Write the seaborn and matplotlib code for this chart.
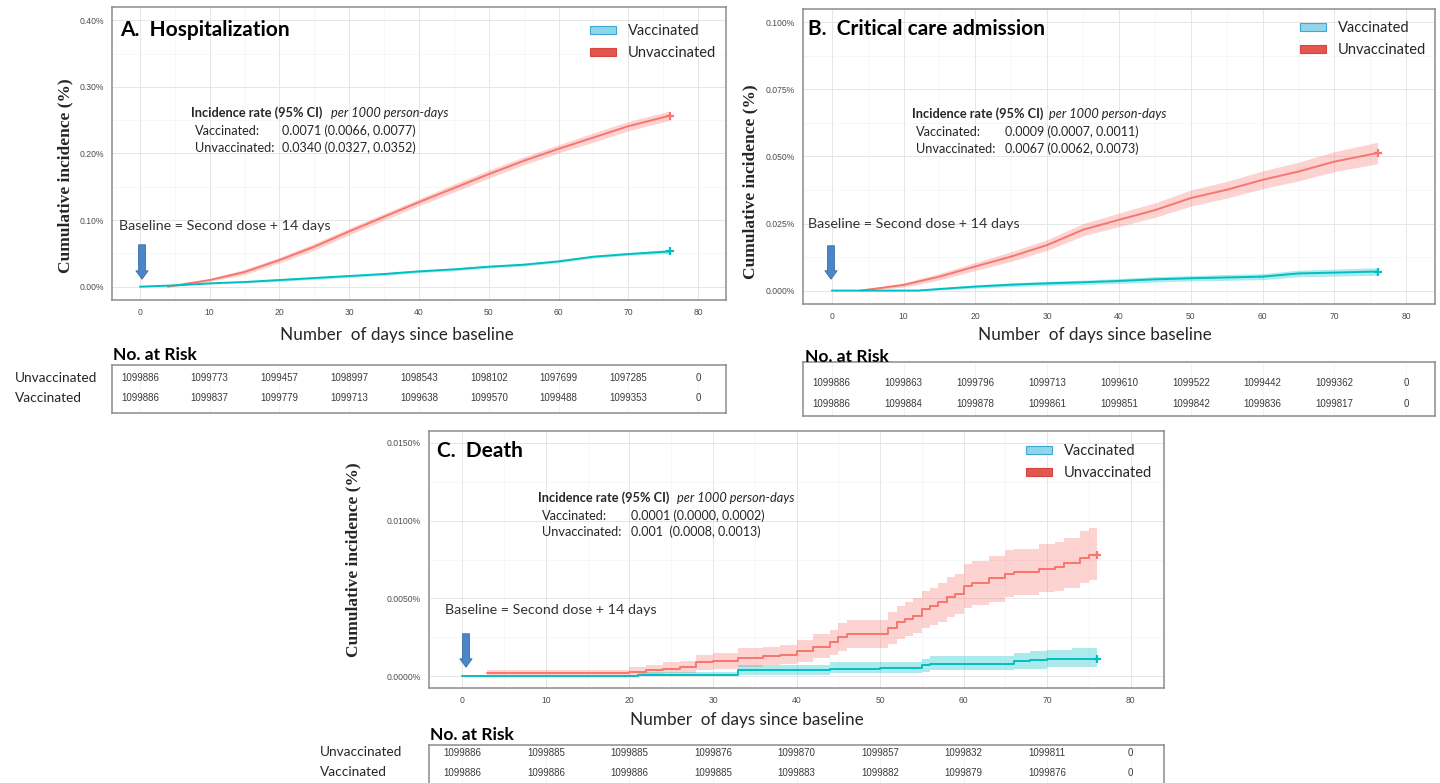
import matplotlib
matplotlib.use('Agg')
import matplotlib.pyplot as plt
import seaborn as sns
from matplotlib.patches import Patch
from matplotlib.ticker import FuncFormatter, MultipleLocator

# ---------------- data (cumulative incidence, %) ----------------
# A. Hospitalization
hosp_vax_days = [0, 5, 10, 15, 20, 25, 30, 35, 40, 45, 50, 55, 60, 65, 70, 76]
hosp_vax = [0.000, 0.002, 0.005, 0.007, 0.010, 0.013, 0.016, 0.019, 0.023, 0.026, 0.030, 0.033, 0.038, 0.045, 0.049, 0.053]
hosp_vax_lo = [0.000, 0.001, 0.004, 0.006, 0.008, 0.011, 0.014, 0.017, 0.021, 0.024, 0.028, 0.031, 0.036, 0.043, 0.047, 0.050]
hosp_vax_hi = [0.000, 0.003, 0.006, 0.008, 0.012, 0.015, 0.018, 0.021, 0.025, 0.028, 0.032, 0.035, 0.040, 0.047, 0.051, 0.056]
hosp_unvax_days = [4, 10, 15, 20, 25, 30, 35, 40, 45, 50, 55, 60, 65, 70, 76]
hosp_unvax = [0.000, 0.010, 0.022, 0.040, 0.060, 0.083, 0.105, 0.127, 0.148, 0.169, 0.189, 0.207, 0.224, 0.241, 0.257]
hosp_unvax_lo = [0.000, 0.008, 0.018, 0.036, 0.055, 0.078, 0.100, 0.122, 0.142, 0.163, 0.183, 0.201, 0.217, 0.234, 0.250]
hosp_unvax_hi = [0.000, 0.012, 0.026, 0.044, 0.065, 0.088, 0.110, 0.132, 0.154, 0.175, 0.195, 0.213, 0.231, 0.248, 0.264]

# B. Critical care admission
icu_vax_days = [0, 12, 15, 20, 25, 30, 35, 40, 45, 50, 55, 60, 65, 70, 76]
icu_vax = [0.0000, 0.0000, 0.0006, 0.0015, 0.0022, 0.0027, 0.0031, 0.0036, 0.0042, 0.0046, 0.0049, 0.0052, 0.0064, 0.0067, 0.0071]
icu_vax_lo = [0.0000, 0.0000, 0.0002, 0.0009, 0.0015, 0.0019, 0.0023, 0.0027, 0.0032, 0.0036, 0.0038, 0.0041, 0.0052, 0.0054, 0.0057]
icu_vax_hi = [0.0000, 0.0000, 0.0010, 0.0021, 0.0029, 0.0035, 0.0039, 0.0045, 0.0052, 0.0056, 0.0060, 0.0063, 0.0076, 0.0080, 0.0085]
icu_unvax_days = [4, 10, 15, 20, 25, 30, 35, 40, 45, 50, 55, 60, 65, 70, 76]
icu_unvax = [0.0000, 0.0021, 0.0052, 0.0090, 0.0127, 0.0170, 0.0227, 0.0264, 0.0300, 0.0345, 0.0376, 0.0413, 0.0444, 0.0481, 0.0513]
icu_unvax_lo = [0.0000, 0.0013, 0.0040, 0.0075, 0.0109, 0.0150, 0.0204, 0.0239, 0.0273, 0.0315, 0.0345, 0.0380, 0.0409, 0.0444, 0.0473]
icu_unvax_hi = [0.0000, 0.0029, 0.0064, 0.0105, 0.0145, 0.0190, 0.0250, 0.0289, 0.0327, 0.0375, 0.0407, 0.0446, 0.0479, 0.0518, 0.0553]

# C. Death
death_vax_days = [0, 21, 33, 44, 50, 55, 56, 66, 68, 70, 73, 76]
death_vax = [0.0000, 0.0001, 0.0004, 0.0005, 0.00055, 0.0007, 0.0008, 0.0010, 0.00105, 0.0011, 0.0011, 0.0011]
death_vax_lo = [0.0000, 0.0000, 0.0001, 0.0002, 0.0002, 0.0003, 0.0004, 0.0005, 0.0005, 0.0006, 0.0006, 0.0006]
death_vax_hi = [0.0000, 0.0003, 0.0007, 0.0009, 0.0009, 0.0011, 0.0013, 0.0015, 0.0016, 0.0017, 0.0018, 0.0018]
death_unvax_days = [3, 20, 22, 24, 26, 28, 30, 33, 36, 38, 40, 42, 44, 45, 46, 51, 52, 53, 54, 55,
                    56, 57, 58, 59, 60, 61, 63, 65, 66, 69, 71, 72, 74, 75, 76]
death_unvax = [0.0002, 0.0003, 0.0004, 0.0005, 0.0006, 0.0009, 0.0010, 0.0012, 0.0013, 0.0014,
               0.0016, 0.0019, 0.0022, 0.0025, 0.0027, 0.0031, 0.0035, 0.0037, 0.0039, 0.0043,
               0.0045, 0.0048, 0.0051, 0.0053, 0.0058, 0.0060, 0.0063, 0.0066, 0.0067, 0.0069,
               0.0070, 0.0073, 0.0076, 0.0078, 0.0078]
death_unvax_lo = [0.0000, 0.0001, 0.0001, 0.0002, 0.0002, 0.0004, 0.0005, 0.0006, 0.0007, 0.0008,
                  0.0009, 0.0012, 0.0014, 0.0016, 0.0018, 0.0021, 0.0024, 0.0026, 0.0028, 0.0031,
                  0.0033, 0.0035, 0.0038, 0.0040, 0.0044, 0.0046, 0.0048, 0.0051, 0.0052, 0.0054,
                  0.0055, 0.0057, 0.0060, 0.0062, 0.0062]
death_unvax_hi = [0.0004, 0.0006, 0.0007, 0.0009, 0.0010, 0.0014, 0.0015, 0.0018, 0.0019, 0.0020,
                  0.0023, 0.0027, 0.0030, 0.0034, 0.0036, 0.0041, 0.0045, 0.0048, 0.0050, 0.0055,
                  0.0057, 0.0060, 0.0064, 0.0066, 0.0072, 0.0074, 0.0077, 0.0081, 0.0082, 0.0085,
                  0.0086, 0.0089, 0.0093, 0.0095, 0.0095]

# numbers at risk at days 0, 10, ..., 80
risk_days = [0, 10, 20, 30, 40, 50, 60, 70, 80]
hosp_risk_unvax = [1099886, 1099773, 1099457, 1098997, 1098543, 1098102, 1097699, 1097285, 0]
hosp_risk_vax = [1099886, 1099837, 1099779, 1099713, 1099638, 1099570, 1099488, 1099353, 0]
icu_risk_unvax = [1099886, 1099863, 1099796, 1099713, 1099610, 1099522, 1099442, 1099362, 0]
icu_risk_vax = [1099886, 1099884, 1099878, 1099861, 1099851, 1099842, 1099836, 1099817, 0]
death_risk_unvax = [1099886, 1099885, 1099885, 1099876, 1099870, 1099857, 1099832, 1099811, 0]
death_risk_vax = [1099886, 1099886, 1099886, 1099885, 1099883, 1099882, 1099879, 1099876, 0]

# incidence rates per 1000 person-days
hosp_rates = ['0.0071 (0.0066, 0.0077)', '0.0340 (0.0327, 0.0352)']
icu_rates = ['0.0009 (0.0007, 0.0011)', '0.0067 (0.0062, 0.0073)']
death_rates = ['0.0001 (0.0000, 0.0002)', '0.001  (0.0008, 0.0013)']

# ---------------- style ----------------
sns.set_style('whitegrid')
plt.rcParams['font.family'] = ['Lato', 'DejaVu Sans']

W, H = 1440, 783
RED = '#F8766D'
CYAN = '#00BFC4'
TXT = '#262626'


def fx(x):
    return x / W


def fy(y):
    return 1 - y / H


def rect(x0, y0, x1, y1):
    return [x0 / W, 1 - y1 / H, (x1 - x0) / W, (y1 - y0) / H]


panels = [
    dict(title='A.  Hospitalization', ax=(112, 7, 726, 300), tab=(112, 365, 726, 413), tab_rows=(378, 398),
         vax=(hosp_vax_days, hosp_vax, hosp_vax_lo, hosp_vax_hi),
         unvax=(hosp_unvax_days, hosp_unvax, hosp_unvax_lo, hosp_unvax_hi),
         risk=(hosp_risk_unvax, hosp_risk_vax), rates=hosp_rates, steps=False,
         ymax=0.4, ystep=0.1, fmt='{:.2f}%',
         title_xy=(120, 30), leg_xy=(590, 24), inc_xy=(191, 113), ital_x=331, val_x=282, rows_y=(131, 148),
         base_xy=(119, 226), arrow=(142, 242, 282), xlab=(397, 335), ylab=(65, 176),
         nrisk=(113, 355), rowlab=(15, 378, 398)),
    dict(title='B.  Critical care admission', ax=(803, 9, 1435, 304), tab=(803, 362, 1435, 416), tab_rows=(383, 404),
         vax=(icu_vax_days, icu_vax, icu_vax_lo, icu_vax_hi),
         unvax=(icu_unvax_days, icu_unvax, icu_unvax_lo, icu_unvax_hi),
         risk=(icu_risk_unvax, icu_risk_vax), rates=icu_rates, steps=False,
         ymax=0.1, ystep=0.025, fmt='{:.3f}%',
         title_xy=(808, 29), leg_xy=(1300, 21), inc_xy=(912, 114), ital_x=1049, val_x=1005, rows_y=(132, 149),
         base_xy=(808, 224), arrow=(831, 243, 282), xlab=(1095, 335), ylab=(750, 182),
         nrisk=(805, 357), rowlab=None),
    dict(title='C.  Death', ax=(429, 431, 1164, 688), tab=(429, 745, 1164, 795), tab_rows=(753, 773),
         vax=(death_vax_days, death_vax, death_vax_lo, death_vax_hi),
         unvax=(death_unvax_days, death_unvax, death_unvax_lo, death_unvax_hi),
         risk=(death_risk_unvax, death_risk_vax), rates=death_rates, steps=True,
         ymax=0.015, ystep=0.005, fmt='{:.4f}%',
         title_xy=(437, 451), leg_xy=(1026, 444), inc_xy=(538, 498), ital_x=677, val_x=631, rows_y=(516, 532),
         base_xy=(445, 610), arrow=(466, 631, 670), xlab=(747, 720), ylab=(353, 560),
         nrisk=(430, 735), rowlab=(320, 752, 772)),
]

fig = plt.figure(figsize=(W / 100, H / 100), dpi=100)
fig.patch.set_facecolor('white')

for p in panels:
    ax = fig.add_axes(rect(*p['ax']))
    ymax, ystep = p['ymax'], p['ystep']
    step_kw = dict(drawstyle='steps-post') if p['steps'] else {}
    fill_kw = dict(step='post') if p['steps'] else {}

    for (d, v, lo, hi), col in [(p['unvax'], RED), (p['vax'], CYAN)]:
        ax.fill_between(d, lo, hi, color=col, alpha=0.32, lw=0, **fill_kw)
        sns.lineplot(x=d, y=v, color=col, lw=1.4, ax=ax, estimator=None, sort=False, **step_kw)
        ax.plot(d[-1], v[-1], marker='+', color=col, ms=6, mew=1.6)

    ax.set_xlim(-4, 84)
    ax.set_ylim(-0.05 * ymax, 1.05 * ymax)
    ax.xaxis.set_major_locator(MultipleLocator(10))
    ax.xaxis.set_minor_locator(MultipleLocator(5))
    ax.yaxis.set_major_locator(MultipleLocator(ystep))
    ax.yaxis.set_minor_locator(MultipleLocator(ystep / 2))
    ax.yaxis.set_major_formatter(FuncFormatter(lambda v, pos, f=p['fmt']: f.format(abs(v) if abs(v) < 1e-12 else v)))
    ax.grid(True, which='major', color='#E6E6E6', lw=0.7)
    ax.grid(True, which='minor', color='#F3F3F3', lw=0.5)
    ax.tick_params(axis='both', which='major', length=3, width=0.6, color='#555555',
                   labelsize=6.2, labelcolor='#4D4D4D', pad=3)
    ax.tick_params(which='minor', length=0)
    for lab in ax.get_xticklabels() + ax.get_yticklabels():
        lab.set_family('Liberation Sans')
    for s in ax.spines.values():
        s.set_visible(True)
        s.set_color('#8C8C8C')
        s.set_linewidth(1.1)
    ax.set_xlabel('')
    ax.set_ylabel('')

    # legend
    handles = [Patch(facecolor='#8FD6EA', edgecolor='#3FA6D6', lw=0.8),
               Patch(facecolor='#E2574F', edgecolor='#D9443C', lw=0.8)]
    ax.legend(handles, ['Vaccinated', 'Unvaccinated'], loc='upper left',
              bbox_to_anchor=(fx(p['leg_xy'][0]), fy(p['leg_xy'][1])), bbox_transform=fig.transFigure,
              frameon=False, fontsize=10.5, handlelength=1.8, handleheight=0.45, handletextpad=0.8,
              labelspacing=0.55, borderpad=0, borderaxespad=0, labelcolor=TXT)

    # texts
    fig.text(fx(p['title_xy'][0]), fy(p['title_xy'][1]), p['title'], fontsize=15, fontweight='bold',
             color='black', va='center', ha='left')
    ix, iy = p['inc_xy']
    fig.text(fx(ix), fy(iy), 'Incidence rate (95% CI)', fontsize=9.2, fontweight='bold', color=TXT, va='center')
    fig.text(fx(p['ital_x']), fy(iy), 'per 1000 person-days', fontsize=9.2, style='italic', color=TXT, va='center')
    for lab, y, rate in zip(['Vaccinated:', 'Unvaccinated:'], p['rows_y'], p['rates']):
        fig.text(fx(ix + 4), fy(y), lab, fontsize=9.2, color=TXT, va='center')
        fig.text(fx(p['val_x']), fy(y), rate, fontsize=9, color=TXT, va='center')
    fig.text(fx(p['base_xy'][0]), fy(p['base_xy'][1]), 'Baseline = Second dose + 14 days', fontsize=10.3,
             color='#333333', va='center')
    axx, ay0, ay1 = p['arrow']
    ax.annotate('', xy=(fx(axx), fy(ay1)), xytext=(fx(axx), fy(ay0)), xycoords='figure fraction',
                textcoords='figure fraction',
                arrowprops=dict(arrowstyle='simple,tail_width=0.45,head_width=0.8,head_length=0.55',
                                mutation_scale=11, facecolor='#4A86C8', edgecolor='#3A6EA8', lw=0.6))
    fig.text(fx(p['xlab'][0]), fy(p['xlab'][1]), 'Number  of days since baseline', fontsize=12.3,
             color=TXT, ha='center', va='center')
    fig.text(fx(p['ylab'][0]), fy(p['ylab'][1]), 'Cumulative incidence (%)', fontsize=12.5,
             family='Liberation Serif', fontweight='bold', color=TXT, rotation=90, ha='center', va='center')

    # number-at-risk table
    tx0, ty0, tx1, ty1 = p['tab']
    tb = fig.add_axes(rect(tx0, ty0, tx1, ty1))
    tb.set_xlim(-4, 84)
    tb.set_ylim(0, 1)
    tb.set_xticks(risk_days)
    tb.set_yticks([])
    tb.tick_params(length=0, labelbottom=False)
    tb.grid(True, axis='x', color='#F2F2F2', lw=0.6)
    tb.grid(False, axis='y')
    for s in tb.spines.values():
        s.set_visible(True)
        s.set_color('#8C8C8C')
        s.set_linewidth(1.1)
    for row, ry in zip(p['risk'], p['tab_rows']):
        yy = (ty1 - ry) / (ty1 - ty0)
        for d, n in zip(risk_days, row):
            tb.text(d, yy, str(n), fontsize=7, family='Liberation Sans', color='#3A3A3A',
                    ha='center', va='center')
    fig.text(fx(p['nrisk'][0]), fy(p['nrisk'][1]), 'No. at Risk', fontsize=12.5, fontweight='bold',
             color='black', va='center')
    if p['rowlab']:
        rx, r1, r2 = p['rowlab']
        fig.text(fx(rx), fy(r1), 'Unvaccinated', fontsize=9.8, color=TXT, va='center')
        fig.text(fx(rx), fy(r2), 'Vaccinated', fontsize=9.8, color=TXT, va='center')

fig.savefig('out.png', dpi=100, facecolor='white')
